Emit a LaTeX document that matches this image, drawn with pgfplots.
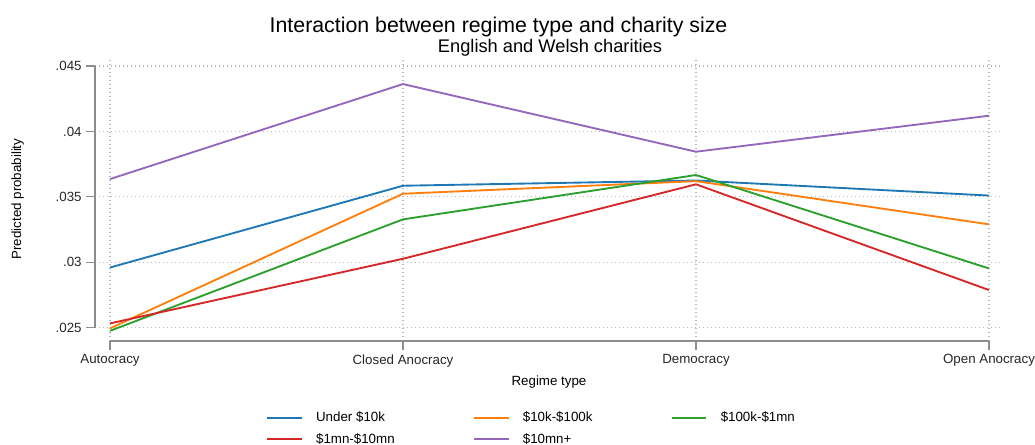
\documentclass[border=0pt]{standalone}
\usepackage{fontspec}
\setmainfont{Liberation Sans}
\usepackage{pgfplots}
\pgfplotsset{compat=1.18}
\definecolor{cblue}{HTML}{1F77B4}
\definecolor{corange}{HTML}{FF7F0E}
\definecolor{cgreen}{HTML}{2CA02C}
\definecolor{cred}{HTML}{D62728}
\definecolor{cpurple}{HTML}{9467BD}
\begin{document}
\begin{tikzpicture}
\useasboundingbox (0,0) rectangle (776.25pt,-333pt);
\node[font=\fontsize{16}{18}\selectfont, anchor=base] at (373.9pt,-24.4pt) {Interaction between regime type and charity size};
\node[font=\fontsize{13.7}{16}\selectfont, anchor=base] at (412.5pt,-39pt) {English and Welsh charities};
\begin{axis}[
  at={(71.25pt,-255.75pt)}, anchor=south west,
  scale only axis, width=681pt, height=213pt,
  xmin=-0.0512, xmax=3.0478, ymin=0.023984, ymax=0.045688,
  axis x line*=bottom, axis y line*=left,
  x axis line style={black!45, line width=0.8pt, shorten <=11.25pt, shorten >=10.5pt},
  y axis line style={black!45, line width=0.8pt, shorten <=10pt, shorten >=6.75pt},
  xtick={0,1,2,3},
  xticklabels={Autocracy,Closed Anocracy,Democracy,Open Anocracy},
  ytick={0.025,0.03,0.035,0.04,0.045},
  yticklabels={.025,.03,.035,.04,.045},
  scaled y ticks=false,
  tick align=outside, major tick length=6.5pt,
  tick style={black!45, line width=0.8pt},
  grid=major,
  major grid style={black!28, line width=0.8pt, dash pattern=on 0.8pt off 2.2pt},
  /pgf/number format/assume math mode=true,
  tick label style={font=\fontsize{10}{12}\selectfont, text=black!85},
  label style={font=\fontsize{10}{12}\selectfont},
  xlabel={Regime type}, ylabel={Predicted probability},
  ylabel style={at={(axis description cs:-0.0851,0.5)}, anchor=center},
  legend columns=3,
  legend cell align=left,
  legend style={draw=none, fill=none, at={(0.1839,-0.229)}, anchor=north west,
    font=\fontsize{10}{12}\selectfont, row sep=3.3pt,
    /tikz/every odd column/.append style={column sep=8pt},
    /tikz/every even column/.append style={column sep=56.75pt}},
  legend image code/.code={\draw[#1] (0pt,0pt) -- (26pt,0pt);},
  every axis plot/.append style={line width=1.4pt},
]
\addplot[cblue] coordinates {(0,0.0296) (1,0.03585) (2,0.03625) (3,0.0351)};
\addlegendentry{Under \$10k}
\addplot[corange] coordinates {(0,0.02495) (1,0.03524) (2,0.0362) (3,0.0329)};
\addlegendentry{\$10k-\$100k}
\addplot[cgreen] coordinates {(0,0.02476) (1,0.03328) (2,0.03667) (3,0.02953)};
\addlegendentry{\$100k-\$1mn}
\addplot[cred] coordinates {(0,0.02533) (1,0.03027) (2,0.03596) (3,0.02788)};
\addlegendentry{\$1mn-\$10mn}
\addplot[cpurple] coordinates {(0,0.03636) (1,0.04362) (2,0.03845) (3,0.0412)};
\addlegendentry{\$10mn+}
\end{axis}
\end{tikzpicture}
\end{document}
